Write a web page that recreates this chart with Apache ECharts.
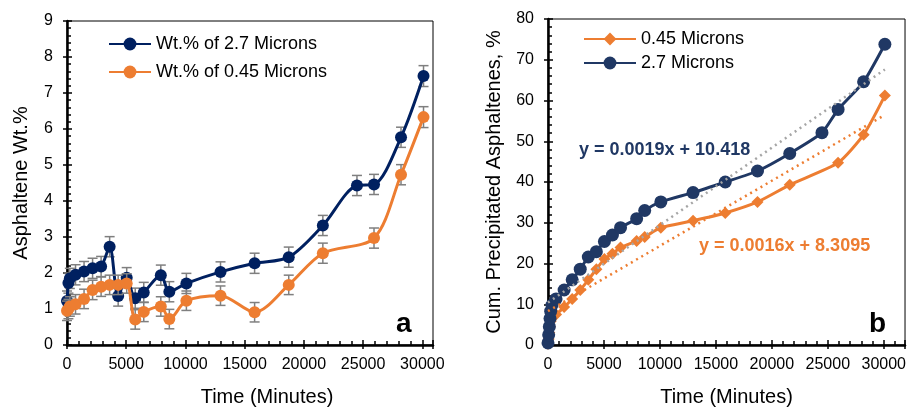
<!DOCTYPE html>
<html><head><meta charset="utf-8">
<script src="https://cdn.jsdelivr.net/npm/echarts@6/dist/echarts.min.js"></script>
<style>html,body{margin:0;padding:0;background:#fff}#c{width:909px;height:412px}</style>
</head><body><div id="c"></div>
<script>
// ---------- Panel a : Asphaltene Wt.% ----------
const timeA = [0, 120, 240, 720, 1440, 2160, 2880, 3600, 4320, 5040, 5760, 6480, 7920, 8640, 10080, 12960, 15840, 18720, 21600, 24480, 25920, 28200, 30100];
const wt27  = [1.22, 1.72, 1.85, 1.95, 2.04, 2.13, 2.18, 2.73, 1.36, 1.87, 1.30, 1.46, 1.94, 1.48, 1.71, 2.03, 2.27, 2.44, 3.32, 4.43, 4.46, 5.77, 7.47];
const err27 = [0.28, 0.28, 0.28, 0.28, 0.28, 0.28, 0.28, 0.28, 0.28, 0.28, 0.28, 0.28, 0.28, 0.28, 0.28, 0.28, 0.28, 0.28, 0.28, 0.28, 0.28, 0.28, 0.29];
const wt045 = [0.95, 1.00, 1.07, 1.13, 1.28, 1.53, 1.62, 1.67, 1.67, 1.71, 0.71, 0.92, 1.07, 0.72, 1.23, 1.37, 0.91, 1.67, 2.55, null, 2.97, 4.73, 6.33];
const err045 = [0.27, 0.27, 0.27, 0.27, 0.27, 0.27, 0.27, 0.27, 0.27, 0.27, 0.27, 0.27, 0.27, 0.27, 0.27, 0.27, 0.27, 0.27, 0.28, null, 0.28, 0.28, 0.29];
const xTicksA = [0, 5000, 10000, 15000, 20000, 25000, 30000];
const yTicksA = [0, 1, 2, 3, 4, 5, 6, 7, 8, 9];

// ---------- Panel b : Cumulative precipitated ----------
const timeB = [0, 60, 120, 180, 240, 360, 720, 1440, 2160, 2880, 3600, 4320, 5040, 5760, 6480, 7920, 8640, 10080, 12960, 15840, 18720, 21600, 24480, 25920, 28200, 30100];
const cum045 = [0.3, 1.5, 3.0, 4.5, 5.8, 6.8, 7.5, 9.3, 11.3, 13.5, 16.0, 18.6, 21.1, 22.4, 23.9, 25.5, 26.5, 28.8, 30.5, 32.4, 35.1, 39.3, null, 44.7, 51.6, 61.2];
const cum27  = [0.5, 2.5, 4.5, 6.5, 8.3, 9.8, 11.3, 13.5, 16.0, 18.6, 21.6, 22.9, 25.4, 27.0, 28.8, 31.0, 33.0, 35.1, 37.4, 40.0, 42.7, 47.0, 52.1, 57.8, 64.6, 73.8];
const fit27Slope = 0.0019, fit27Intercept = 10.418;
const fit045Slope = 0.0016, fit045Intercept = 8.3095;
const fitLabel27 = 'y = 0.0019x + 10.418';
const fitLabel045 = 'y = 0.0016x + 8.3095';
const xTicksB = [0, 5000, 10000, 15000, 20000, 25000, 30000];
const yTicksB = [0, 10, 20, 30, 40, 50, 60, 70, 80];

const FONT = '"Liberation Sans", Arial, sans-serif';
const NAVY_A = '#002060', NAVY_B = '#203864', ORANGE = '#ED7D31';

const pairs = (xs, ys) => xs.map((x, i) => [x, ys[i]]).filter(p => p[1] != null);
const triples = (xs, ys, es) => xs.map((x, i) => [x, ys[i], es[i]]).filter(p => p[1] != null);

function errRender(params, api) {
  const x = api.value(0), y = api.value(1), e = api.value(2);
  const t = api.coord([x, y + e]), b = api.coord([x, y - e]);
  const cap = 5;
  const style = { stroke: '#7F7F7F', lineWidth: 1.5 };
  return { type: 'group', children: [
    { type: 'line', shape: { x1: t[0], y1: t[1], x2: b[0], y2: b[1] }, style },
    { type: 'line', shape: { x1: t[0] - cap, y1: t[1], x2: t[0] + cap, y2: t[1] }, style },
    { type: 'line', shape: { x1: b[0] - cap, y1: b[1], x2: b[0] + cap, y2: b[1] }, style }
  ]};
}

function mainX(grid, ticks, max, nameOpts) {
  return Object.assign({
    type: 'value', gridIndex: grid, position: 'bottom',
    min: ticks[0], max: max, interval: ticks[1] - ticks[0],
    axisLine: { show: true, onZero: false, lineStyle: { color: '#000', width: 2.5 } },
    axisTick: { show: true, inside: true, length: 5, lineStyle: { color: '#000', width: 1.5 } },
    minorTick: { show: true, splitNumber: 5, length: 4, lineStyle: { color: '#000', width: 1.5 } },
    splitLine: { show: false },
    axisLabel: { show: true, margin: 12, color: '#000', fontSize: 16, fontFamily: FONT,
      formatter: v => ticks.indexOf(v) >= 0 ? String(v) : '' },
    name: 'Time (Minutes)', nameLocation: 'middle', nameGap: 42,
    nameTextStyle: { color: '#000', fontSize: 20, fontFamily: FONT }
  }, nameOpts || {});
}
function outX(grid, ticks, max) {
  return { type: 'value', gridIndex: grid, position: 'bottom',
    min: ticks[0], max: max, interval: ticks[1] - ticks[0],
    axisLine: { show: false }, axisLabel: { show: false }, splitLine: { show: false },
    axisTick: { show: true, inside: false, length: 4, lineStyle: { color: '#000', width: 1.5 } } };
}
function mainY(grid, ticks, name, gap) {
  return {
    type: 'value', gridIndex: grid, position: 'left',
    min: ticks[0], max: ticks[ticks.length - 1], interval: ticks[1] - ticks[0],
    axisLine: { show: true, onZero: false, lineStyle: { color: '#000', width: 2.5 } },
    axisTick: { show: true, inside: true, length: 5, lineStyle: { color: '#000', width: 1.5 } },
    minorTick: { show: true, splitNumber: 5, length: 4, lineStyle: { color: '#000', width: 1.5 } },
    splitLine: { show: false },
    axisLabel: { show: true, margin: 14, color: '#000', fontSize: 16, fontFamily: FONT },
    name: name, nameLocation: 'middle', nameGap: gap,
    nameTextStyle: { color: '#000', fontSize: 20, fontFamily: FONT }
  };
}
function outY(grid, ticks) {
  return { type: 'value', gridIndex: grid, position: 'left',
    min: ticks[0], max: ticks[ticks.length - 1], interval: ticks[1] - ticks[0],
    axisLine: { show: false }, axisLabel: { show: false }, splitLine: { show: false },
    axisTick: { show: true, inside: false, length: 4, lineStyle: { color: '#000', width: 1.5 } } };
}

const lastB = timeB[timeB.length - 1];
const option = {
  animation: false,
  backgroundColor: '#fff',
  grid: [
    { left: 67, top: 21, width: 366, height: 327, show: true, borderColor: '#000', borderWidth: 1, backgroundColor: 'transparent' },
    { left: 548, top: 19, width: 358, height: 329, show: true, borderColor: '#000', borderWidth: 1, backgroundColor: 'transparent' }
  ],
  xAxis: [
    mainX(0, xTicksA, 30900, { nameTextStyle: { color: '#000', fontSize: 20, fontFamily: FONT, padding: [0, 0, 0, 34] } }),
    outX(0, xTicksA, 30900),
    mainX(1, xTicksB, 31900),
    outX(1, xTicksB, 31900)
  ],
  yAxis: [
    mainY(0, yTicksA, 'Asphaltene Wt.%', 36),
    outY(0, yTicksA),
    mainY(1, yTicksB, 'Cum. Precipitated Asphaltenes, %', 44),
    outY(1, yTicksB)
  ],
  legend: [
    { data: ['Wt.% of 2.7 Microns', 'Wt.% of 0.45 Microns'], orient: 'vertical', left: 103, top: 30,
      itemWidth: 42, itemHeight: 16, itemGap: 10, selectedMode: false,
      textStyle: { color: '#000', fontSize: 18, fontFamily: FONT } },
    { data: ['0.45 Microns', '2.7 Microns'], orient: 'vertical', left: 578, top: 25,
      itemWidth: 52, itemHeight: 16, itemGap: 6, selectedMode: false,
      textStyle: { color: '#000', fontSize: 18, fontFamily: FONT } }
  ],
  graphic: [
    { type: 'text', left: 396, top: 310, style: { text: 'a', fill: '#000', font: 'bold 28px ' + FONT } },
    { type: 'text', left: 869, top: 310, style: { text: 'b', fill: '#000', font: 'bold 28px ' + FONT } },
    { type: 'text', left: 579, top: 141, style: { text: fitLabel27, fill: NAVY_B, font: 'bold 18px ' + FONT } },
    { type: 'text', left: 699, top: 237, style: { text: fitLabel045, fill: ORANGE, font: 'bold 18px ' + FONT } }
  ],
  series: [
    { type: 'custom', xAxisIndex: 0, yAxisIndex: 0, renderItem: errRender, encode: { x: 0, y: 1 },
      data: triples(timeA, wt27, err27), z: 2, silent: true },
    { type: 'line', name: 'Wt.% of 2.7 Microns', xAxisIndex: 0, yAxisIndex: 0, data: pairs(timeA, wt27),
      smooth: 0.3, symbol: 'circle', symbolSize: 12, z: 3,
      lineStyle: { color: NAVY_A, width: 3 }, itemStyle: { color: NAVY_A } },
    { type: 'custom', xAxisIndex: 0, yAxisIndex: 0, renderItem: errRender, encode: { x: 0, y: 1 },
      data: triples(timeA, wt045, err045), z: 4, silent: true },
    { type: 'line', name: 'Wt.% of 0.45 Microns', xAxisIndex: 0, yAxisIndex: 0, data: pairs(timeA, wt045),
      smooth: 0.3, symbol: 'circle', symbolSize: 12, z: 5,
      lineStyle: { color: ORANGE, width: 3 }, itemStyle: { color: ORANGE } },

    { type: 'line', name: '0.45 Microns', xAxisIndex: 2, yAxisIndex: 2, data: pairs(timeB, cum045),
      smooth: 0.2, symbol: 'diamond', symbolSize: 12, z: 3,
      lineStyle: { color: ORANGE, width: 3 }, itemStyle: { color: ORANGE } },
    { type: 'line', name: '2.7 Microns', xAxisIndex: 2, yAxisIndex: 2, data: pairs(timeB, cum27),
      smooth: 0.2, symbol: 'circle', symbolSize: 13, z: 4,
      lineStyle: { color: NAVY_B, width: 3 }, itemStyle: { color: NAVY_B } },
    { type: 'line', name: 'fit27', xAxisIndex: 2, yAxisIndex: 2, silent: true, showSymbol: false, symbol: 'none', z: 6,
      data: [[timeB[0], fit27Intercept + fit27Slope * timeB[0]], [lastB, fit27Intercept + fit27Slope * lastB]],
      lineStyle: { color: '#A5A5A5', width: 2.5, type: [2, 4] } },
    { type: 'line', name: 'fit045', xAxisIndex: 2, yAxisIndex: 2, silent: true, showSymbol: false, symbol: 'none', z: 6,
      data: [[timeB[0], fit045Intercept + fit045Slope * timeB[0]], [lastB, fit045Intercept + fit045Slope * lastB]],
      lineStyle: { color: ORANGE, width: 2.5, type: [2, 4] } }
  ]
};
const chart = echarts.init(document.getElementById('c'), null, { renderer: 'canvas' });
chart.setOption(option);
</script>
</body></html>
